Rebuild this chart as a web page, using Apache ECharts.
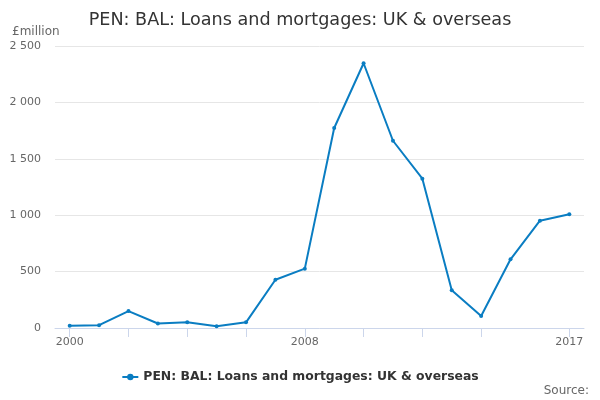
<!DOCTYPE html>
<html>
<head>
<meta charset="utf-8">
<script src="https://cdn.jsdelivr.net/npm/echarts@6/dist/echarts.min.js"></script>
<style>html,body{margin:0;padding:0;background:#fff}#c{width:600px;height:400px}</style>
</head>
<body>
<div id="c"></div>
<script>
const categories = ['2000','2001','2002','2003','2004','2005','2006','2007','2008','2009','2010','2011','2012','2013','2014','2015','2016','2017'];
const values = [20, 25, 150, 40, 50, 15, 50, 428, 526, 1773, 2347, 1660, 1324, 334, 106, 609, 951, 1008];
const seriesName = 'PEN: BAL: Loans and mortgages: UK & overseas';
const labelYears = ['2000','2008','2017'];
const tickYears = ['2000','2002','2004','2006','2008','2010','2012','2014','2017'];

const font = 'DejaVu Sans';
const chart = echarts.init(document.getElementById('c'));
chart.setOption({
  animation: false,
  title: {
    text: seriesName,
    left: 'center',
    top: 6,
    textStyle: {fontFamily: font, fontSize: 17.6, fontWeight: 'normal', color: '#333'}
  },
  graphic: [
    {type: 'text', left: 12, top: 26, style: {text: '£million', fontFamily: font, fontSize: 12, fill: '#666'}},
    {type: 'text', right: 11, top: 385, style: {text: 'Source:', fontFamily: font, fontSize: 12, fill: '#666'}}
  ],
  legend: {
    top: 366,
    left: 'center',
    itemWidth: 16,
    itemHeight: 8,
    textStyle: {fontFamily: font, fontSize: 12.4, fontWeight: 'bold', color: '#333'},
    data: [seriesName]
  },
  grid: {left: 55, right: 16, top: 46, bottom: 72, containLabel: false},
  xAxis: {
    type: 'category',
    data: categories,
    boundaryGap: true,
    axisLine: {show: true, lineStyle: {color: '#ccd6eb'}},
    axisTick: {
      show: true,
      alignWithLabel: true,
      length: 9,
      lineStyle: {color: '#ccd6eb'},
      interval: (i, v) => tickYears.indexOf(v) >= 0
    },
    axisLabel: {
      interval: (i, v) => labelYears.indexOf(v) >= 0,
      fontFamily: font, fontSize: 11, color: '#666', margin: 9
    }
  },
  yAxis: {
    type: 'value',
    min: 0, max: 2500, interval: 500,
    axisLine: {show: false},
    axisTick: {show: false},
    splitLine: {lineStyle: {color: '#e6e6e6'}},
    axisLabel: {
      fontFamily: font, fontSize: 11, color: '#666', margin: 14,
      formatter: v => String(v).replace(/\B(?=(\d{3})+(?!\d))/g, ' ')
    }
  },
  series: [{
    name: seriesName,
    type: 'line',
    data: values,
    symbol: 'circle',
    symbolSize: 4,
    lineStyle: {width: 2, color: '#0a7dc2'},
    itemStyle: {color: '#0a7dc2'}
  }]
});
</script>
</body>
</html>
